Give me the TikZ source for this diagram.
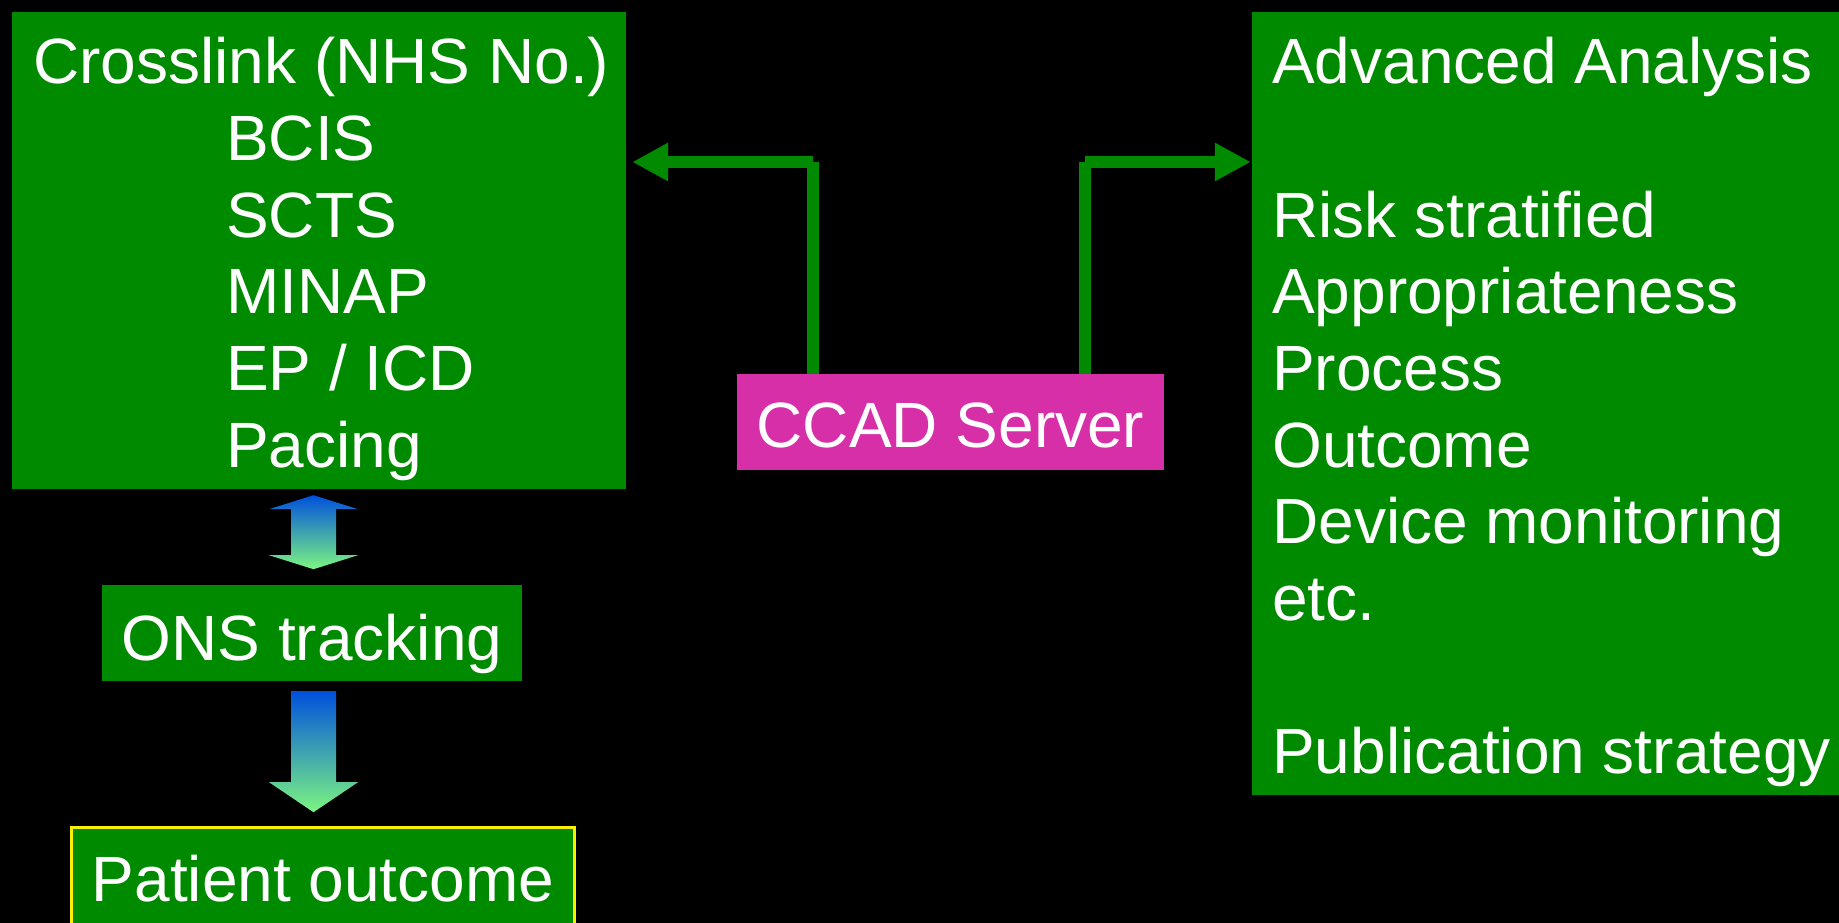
\documentclass[tikz,border=0pt]{standalone}
\usepackage{fontspec}
\setmainfont{Liberation Sans}
\usetikzlibrary{arrows.meta,calc}
\definecolor{boxgreen}{RGB}{0,138,0}
\definecolor{ccadcol}{RGB}{214,47,168}
\definecolor{gtop}{RGB}{0,80,220}
\definecolor{gbot}{RGB}{125,245,130}
\definecolor{pyellow}{RGB}{250,240,0}
\begin{document}
\begin{tikzpicture}[x=1pt,y=-1pt,
  bigfont/.style={font=\fontsize{64}{76.6}\selectfont},
  txt/.style={bigfont, text=white, inner sep=0pt, anchor=base west},
  gbox/.style={fill=boxgreen, inner sep=0pt, text=white, bigfont, text height=50pt, text depth=0pt},
  conn/.style={color=boxgreen, line width=12pt},
  tipend/.style={-{Triangle[length=36pt,width=36pt]}},
  grad/.style={top color=gtop, bottom color=gbot, draw=none}]
\clip (0,0) rectangle (1839,923);
\fill[black] (0,0) rectangle (1839,923);

% boxes
\node[gbox, minimum width=614pt, minimum height=477pt] (cross) at (319,250.5) {};
\node[gbox, minimum width=600pt, minimum height=783pt] (adv) at (1552,403.5) {};
\node[gbox, fill=ccadcol, minimum width=427pt, minimum height=96pt] (ccad) at (950.5,422) {CCAD Server};
\node[gbox, minimum width=420pt, minimum height=96pt, text height=54pt] (ons) at (312,633) {ONS tracking};
\node[gbox, draw=pyellow, line width=3pt, minimum width=503pt, minimum height=110pt, text height=37pt] (pat) at (323,882.5) {Patient outcome};

% left box text
\node[txt] (c1) at (33,84) {Crosslink (NHS No.)};
\node[txt] (c2) at (226,160.6) {BCIS};
\node[txt] (c3) at (226,237.2) {SCTS};
\node[txt] (c4) at (226,313.8) {MINAP};
\node[txt] (c5) at (226,390.4) {EP / ICD};
\node[txt] (c6) at (226,467) {Pacing};

% right box text
\node[txt] (r1) at (1272,84) {Advanced Analysis};
\node[txt] (r2) at (1272,237.2) {Risk stratified};
\node[txt] (r3) at (1272,313.8) {Appropriateness};
\node[txt] (r4) at (1272,390.4) {Process};
\node[txt] (r5) at (1272,467) {Outcome};
\node[txt] (r6) at (1272,543.6) {Device monitoring};
\node[txt] (r7) at (1272,620.2) {etc.};
\node[txt] (r8) at (1272,773.4) {Publication strategy};

% gradient arrows
\coordinate (a1) at ($(cross.south -| ons.north)+(1.5,6)$);
\shade[grad] (a1) -- ++(44.5,14) -- ++(-22,0) -- ++(0,46) -- ++(22,0) -- ++(-44.5,14)
  -- ++(-44.5,-14) -- ++(22,0) -- ++(0,-46) -- ++(-22,0) -- cycle;
\coordinate (a2) at ($(ons.south)+(1.5,10)$);
\shade[grad] ($(a2)+(-22.5,0)$) -- ++(45,0) -- ++(0,91) -- ++(22,0) -- ++(-44.5,30)
  -- ++(-44.5,-30) -- ++(22,0) -- cycle;

% green connectors
\coordinate (ly) at (0,162);
\coordinate (lc) at ($(ccad.north west)+(76,0)$);
\coordinate (rc) at ($(ccad.north east)+(-79,0)$);
\draw[conn] (lc) -- (lc |- ly);
\draw[conn, tipend] (lc |- ly) -- ($(ly -| cross.east)+(6,0)$);
\draw[conn] (rc) -- (rc |- ly);
\draw[conn, tipend] (rc |- ly) -- ($(ly -| adv.west)+(-1,0)$);
\end{tikzpicture}
\end{document}
